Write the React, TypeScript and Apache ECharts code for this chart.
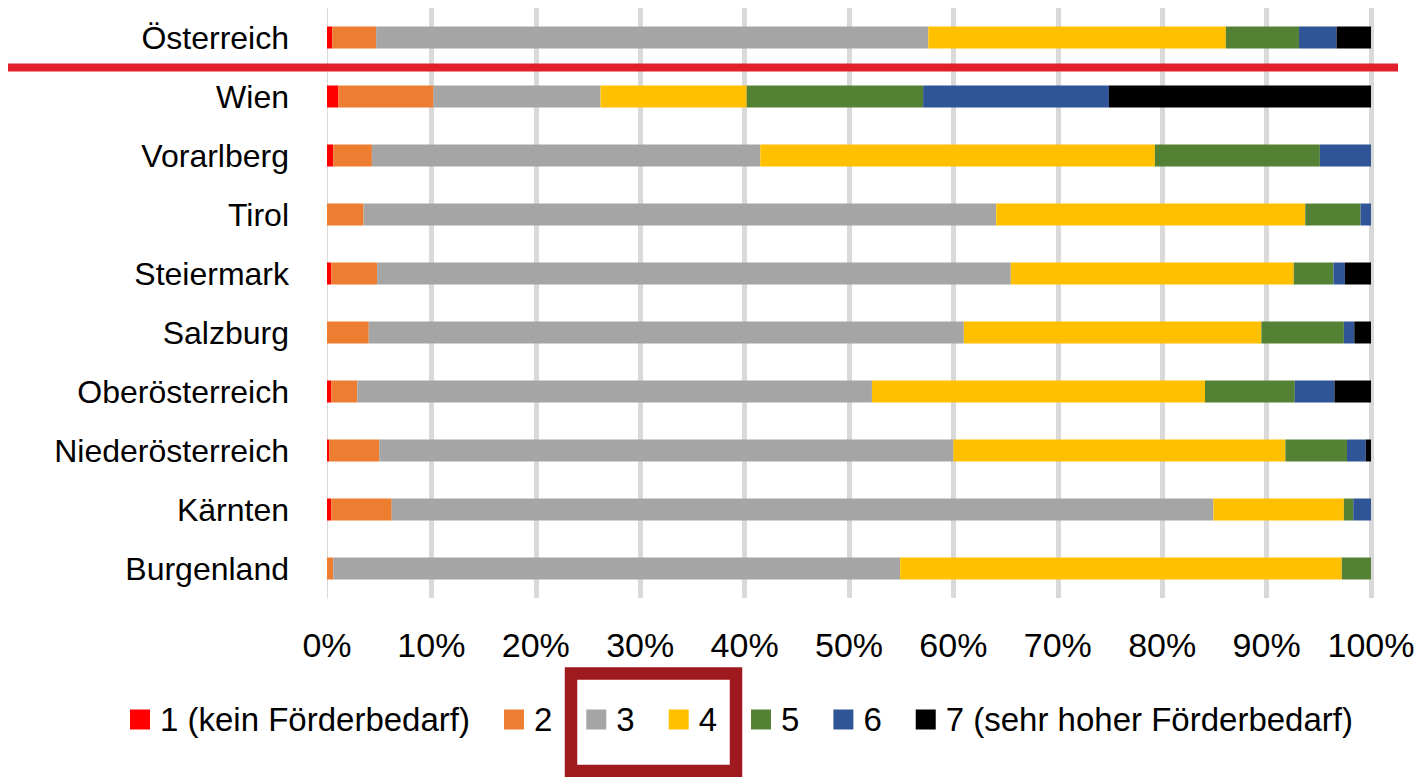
import React, { useEffect, useRef } from "react";
import * as echarts from "echarts";

const categories = [
  "Österreich",
  "Wien",
  "Vorarlberg",
  "Tirol",
  "Steiermark",
  "Salzburg",
  "Oberösterreich",
  "Niederösterreich",
  "Kärnten",
  "Burgenland",
];

const seriesNames = [
  "1 (kein Förderbedarf)",
  "2",
  "3",
  "4",
  "5",
  "6",
  "7 (sehr hoher Förderbedarf)",
];

const level1 = [0.5, 1.1, 0.6, 0, 0.4, 0, 0.4, 0.2, 0.4, 0];
const level2 = [4.2, 9.1, 3.7, 3.5, 4.4, 4.0, 2.5, 4.8, 5.8, 0.6];
const level3 = [52.9, 16.0, 37.2, 60.6, 60.7, 57.0, 49.3, 55.0, 78.7, 54.3];
const level4 = [28.5, 14.0, 37.8, 29.6, 27.1, 28.5, 31.9, 31.8, 12.5, 42.3];
const level5 = [7.0, 16.9, 15.8, 5.3, 3.8, 7.9, 8.6, 5.9, 0.9, 2.8];
const level6 = [3.6, 17.8, 4.9, 1.0, 1.1, 1.0, 3.8, 1.8, 1.7, 0];
const level7 = [3.3, 25.1, 0, 0, 2.5, 1.6, 3.5, 0.5, 0, 0];

const seriesValues = [level1, level2, level3, level4, level5, level6, level7];

const colors = ["#ff0000", "#ed7d31", "#a5a5a5", "#ffc000", "#548235", "#2f5597", "#000000"];

const xTicks = { min: 0, max: 100, interval: 10 };

export default function App() {
  const ref = useRef<HTMLDivElement>(null);

  useEffect(() => {
    if (!ref.current) return;
    const chart = echarts.init(ref.current, null, { renderer: "svg" });
    const font = "'Liberation Sans', Arial, sans-serif";
    chart.setOption({
      animation: false,
      color: colors,
      textStyle: { fontFamily: font, color: "#000" },
      grid: {
        left: 327,
        right: 55,
        top: 8,
        bottom: 179,
        containLabel: false,
        outerBoundsMode: "none",
      },
      xAxis: {
        type: "value",
        min: xTicks.min,
        max: xTicks.max,
        interval: xTicks.interval,
        axisLine: { show: false },
        axisTick: { show: false },
        axisLabel: {
          formatter: "{value}%",
          fontSize: 34,
          color: "#000",
          fontFamily: font,
          margin: 30,
        },
        splitLine: {
          show: true,
          showMinLine: false,
          lineStyle: { color: "#d9d9d9", width: 5 },
        },
      },
      yAxis: {
        type: "category",
        data: categories,
        inverse: true,
        axisLine: { show: true, lineStyle: { color: "#d9d9d9", width: 1 } },
        axisTick: { show: false },
        axisLabel: {
          fontSize: 32,
          color: "#000",
          fontFamily: font,
          margin: 38,
        },
      },
      legend: {
        data: seriesNames,
        left: 130,
        top: 703,
        icon: "rect",
        itemWidth: 20,
        itemHeight: 20,
        itemGap: 34,
        padding: 0,
        textStyle: {
          fontSize: 33,
          color: "#000",
          fontFamily: font,
          padding: [0, 0, 0, 5],
        },
      },
      graphic: [
        {
          type: "line",
          shape: { x1: 8, y1: 67.5, x2: 1398, y2: 67.5 },
          style: { stroke: "#e0202a", lineWidth: 8 },
          z: 100,
        },
        {
          type: "rect",
          shape: { x: 571, y: 673.5, width: 165, height: 97.5 },
          style: { stroke: "#9e1a1e", lineWidth: 12.5, fill: "none" },
          z: 100,
        },
      ],
      series: seriesNames.map((name, i) => ({
        name,
        type: "bar",
        stack: "total",
        barWidth: 22,
        data: seriesValues[i],
        itemStyle: { color: colors[i] },
      })),
    });
    return () => chart.dispose();
  }, []);

  return (
    <div
      ref={ref}
      style={{ position: "fixed", left: 0, top: 0, width: 1426, height: 777, background: "#fff" }}
    />
  );
}
